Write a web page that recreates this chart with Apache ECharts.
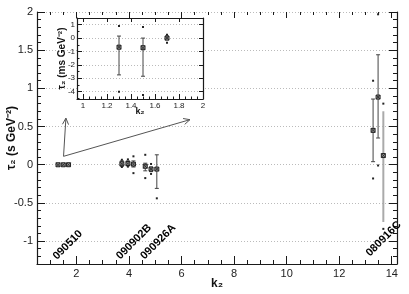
<!DOCTYPE html>
<html><head><meta charset="utf-8">
<script src="https://cdn.jsdelivr.net/npm/echarts@6/dist/echarts.min.js"></script>
<style>html,body{margin:0;padding:0;background:#fff}#c{width:409px;height:294px}</style>
</head><body><div id="c"></div>
<script>
// ---- data ----
const xMajorTicks = [2, 4, 6, 8, 10, 12, 14];
const yMajorTicks = [-1, -0.5, 0, 0.5, 1, 1.5, 2];
const insetXTicks = [1, 1.2, 1.4, 1.6, 1.8, 2];
const insetYTicks = [-4, -3, -2, -1, 0, 1];
const insetYMinor = [-4.5, -3.5, -2.5, -1.5, -0.5, 0.5, 1.5];

const grbNames = ['090510', '090902B', '090926A', '080916C'];
const grbLabelK = [1.67, 4.19, 5.11, 13.69];
const grbLabelTau = [-1.05, -1.01, -1.01, -0.97];

const mainK      = [1.3, 1.5, 1.7, 3.73, 3.96, 4.17, 4.62, 4.84, 5.06, 13.29, 13.48, 13.68];
const mainTau    = [-0.0007, -0.0007, 0.0, 0.013, 0.016, 0.008, -0.02, -0.057, -0.057, 0.45, 0.886, 0.12];
const mainErrLo  = [null, null, null, -0.02, -0.015, -0.03, -0.08, -0.09, -0.31, 0.04, 0.35, -0.75];
const mainErrHi  = [null, null, null, 0.05, 0.05, 0.05, 0.02, -0.03, 0.13, 0.86, 1.44, 0.70];
const mainOutLo  = [null, null, null, -0.03, -0.025, -0.11, -0.175, -0.12, -0.44, -0.18, -0.01, -0.84];
const mainOutHi  = [null, null, null, 0.065, 0.07, 0.11, 0.13, 0.01, null, 1.10, 1.97, 0.80];
const mainStyle  = [0, 0, 0, 0, 0, 0, 0, 0, 0, 0, 0, 1];

const insetK     = [1.3, 1.5, 1.7];
const insetTau   = [-0.68, -0.72, 0.0];
const insetErrLo = [-2.75, -2.85, -0.12];
const insetErrHi = [0.15, 0.0, 0.15];
const insetOutLo = [-4.0, -4.25, -0.35];
const insetOutHi = [0.9, 0.83, 0.25];

const arrowFrom = [1.51, 0.11];
const arrowTo = [[1.6, 0.61], [6.32, 0.59]];

// ---- helpers ----
const AX = '#1a1a1a';
const FONT = 'Liberation Sans, Arial, sans-serif';
const nz = v => (v == null ? NaN : v);
function rows(K, T, L, H, OL, OH, S) {
  return K.map((k, i) => [k, T[i], nz(L[i]), nz(H[i]), nz(OL[i]), nz(OH[i]), S ? S[i] : 0]);
}
function ax(gridIndex, min, max, position, o) {
  return Object.assign({
    type: 'value', gridIndex, min, max, position, nameMoveOverlap: false,
    axisLine: { show: false, onZero: false }, axisTick: { show: false },
    axisLabel: { show: false }, splitLine: { show: false }
  }, o || {});
}
const lineOn = { show: true, onZero: false, lineStyle: { color: AX, width: 1.2 } };
const tick = (len, vals, extra) => Object.assign({ show: true, inside: true, length: len, lineStyle: { color: AX, width: 1 } }, vals ? { customValues: vals } : {}, extra || {});

function renderErr(params, api) {
  const k = api.value(0), t = api.value(1);
  const lo = api.value(2), hi = api.value(3), olo = api.value(4), ohi = api.value(5), st = api.value(6);
  const p = api.coord([k, t]);
  const ch = [];
  if (!isNaN(lo) && !isNaN(hi)) {
    const a = api.coord([k, lo]), b = api.coord([k, hi]);
    if (st === 1) {
      ch.push({ type: 'line', shape: { x1: a[0], y1: a[1], x2: b[0], y2: b[1] }, style: { stroke: '#aaaaaa', lineWidth: 2 } });
    } else {
      ch.push({ type: 'line', shape: { x1: a[0], y1: a[1], x2: b[0], y2: b[1] }, style: { stroke: '#444', lineWidth: 1 } });
      ch.push({ type: 'line', shape: { x1: a[0] - 2, y1: a[1], x2: a[0] + 2, y2: a[1] }, style: { stroke: '#444', lineWidth: 1 } });
      ch.push({ type: 'line', shape: { x1: b[0] - 2, y1: b[1], x2: b[0] + 2, y2: b[1] }, style: { stroke: '#444', lineWidth: 1 } });
    }
  }
  [olo, ohi].forEach(v => {
    if (!isNaN(v)) {
      const q = api.coord([k, v]);
      ch.push({ type: 'rect', shape: { x: q[0] - 1, y: q[1] - 1, width: 2, height: 2 }, style: { fill: '#222' } });
    }
  });
  ch.push({ type: 'rect', shape: { x: p[0] - 2, y: p[1] - 2, width: 4, height: 4 }, style: { fill: '#999', stroke: '#222', lineWidth: 1 } });
  ch.push({ type: 'line', shape: { x1: p[0] - 2, y1: p[1] - 2, x2: p[0] + 2, y2: p[1] + 2 }, style: { stroke: '#222', lineWidth: 0.8 } });
  ch.push({ type: 'line', shape: { x1: p[0] - 2, y1: p[1] + 2, x2: p[0] + 2, y2: p[1] - 2 }, style: { stroke: '#222', lineWidth: 0.8 } });
  return { type: 'group', children: ch };
}

function renderArrow(params, api) {
  const a = api.coord([api.value(0), api.value(1)]);
  const b = api.coord([api.value(2), api.value(3)]);
  const ang = Math.atan2(b[1] - a[1], b[0] - a[0]);
  const L = 7, w = 0.45;
  const h1 = [b[0] - L * Math.cos(ang - w), b[1] - L * Math.sin(ang - w)];
  const h2 = [b[0] - L * Math.cos(ang + w), b[1] - L * Math.sin(ang + w)];
  const s = { stroke: '#555', lineWidth: 1, fill: null };
  return { type: 'group', children: [
    { type: 'line', shape: { x1: a[0], y1: a[1], x2: b[0], y2: b[1] }, style: s },
    { type: 'polyline', shape: { points: [h1, b, h2] }, style: s }
  ] };
}

function renderLabel(params, api) {
  const p = api.coord([api.value(0), api.value(1)]);
  return { type: 'text', x: p[0], y: p[1], rotation: Math.PI / 4,
    style: { text: grbNames[params.dataIndex], align: 'center', verticalAlign: 'middle',
      font: 'bold 11px ' + FONT, fill: '#000' } };
}

const chart = echarts.init(document.getElementById('c'), null, { renderer: 'canvas' });
chart.setOption({
  animation: false,
  backgroundColor: '#fff',
  grid: [
    { left: 37, top: 12, width: 360, height: 252, containLabel: false, outerBoundsMode: 'none' },
    { left: 77, top: 18, width: 126, height: 81, show: true, backgroundColor: '#fff', borderWidth: 0, z: 3, containLabel: false, outerBoundsMode: 'none' }
  ],
  xAxis: [
    ax(0, 0.5, 14.2, 'bottom', {
      axisLine: lineOn, axisTick: tick(8, xMajorTicks),
      axisLabel: { show: true, customValues: xMajorTicks, margin: 4, fontSize: 11, color: '#222', fontFamily: FONT },
      name: 'k₂', nameLocation: 'middle', nameGap: 14,
      nameTextStyle: { fontWeight: 'bold', fontSize: 12, color: '#111', fontFamily: FONT, verticalAlign: 'top' }
    }),
    ax(0, 0.5, 14.2, 'bottom', { interval: 0.5, axisTick: tick(4) }),
    ax(0, 0.5, 14.2, 'top', { axisTick: tick(6, xMajorTicks) }),
    ax(0, 0.5, 14.2, 'top', { interval: 0.5, axisTick: tick(3) }),
    ax(1, 0.95, 2.0, 'bottom', {
      z: 4, axisLine: lineOn, axisTick: tick(5, insetXTicks),
      axisLabel: { show: true, customValues: insetXTicks, margin: 3, fontSize: 8, color: '#222', fontFamily: FONT },
      name: 'k₂', nameLocation: 'middle', nameGap: 8,
      nameTextStyle: { fontWeight: 'bold', fontSize: 9, color: '#111', fontFamily: FONT, verticalAlign: 'top' }
    }),
    ax(1, 0.95, 2.0, 'bottom', { z: 4, interval: 0.05, axisTick: tick(2.5) }),
    ax(1, 0.95, 2.0, 'top', { z: 4, axisLine: lineOn, axisTick: tick(4, insetXTicks) })
  ],
  yAxis: [
    ax(0, -1.3, 2.0, 'left', {
      axisLine: lineOn, axisTick: tick(8, yMajorTicks),
      axisLabel: { show: true, customValues: yMajorTicks, margin: 4, fontSize: 11, color: '#222', fontFamily: FONT },
      splitLine: { show: true, lineStyle: { color: '#bbb', type: [1, 2], width: 1 } },
      name: 'τ₂ (s GeV⁻²)', nameLocation: 'middle', nameGap: 19, nameRotate: 90,
      nameTextStyle: { fontWeight: 'bold', fontSize: 12, color: '#111', fontFamily: FONT }
    }),
    ax(0, -1.3, 2.0, 'left', { interval: 0.1, axisTick: tick(4) }),
    ax(0, -1.3, 2.0, 'right', { axisLine: lineOn, axisTick: tick(8, yMajorTicks) }),
    ax(0, -1.3, 2.0, 'right', { interval: 0.1, axisTick: tick(4) }),
    ax(1, -4.55, 1.5, 'left', {
      z: 4, axisLine: lineOn, axisTick: tick(5, insetYTicks),
      axisLabel: { show: true, customValues: insetYTicks, margin: 2, fontSize: 8, color: '#222', fontFamily: FONT },
      splitLine: { show: true, lineStyle: { color: '#bbb', type: [1, 2], width: 1 } },
      name: 'τ₂ (ms GeV⁻²)', nameLocation: 'middle', nameGap: 10, nameRotate: 90,
      nameTextStyle: { fontWeight: 'bold', fontSize: 10, color: '#111', fontFamily: FONT }
    }),
    ax(1, -4.55, 1.5, 'left', { z: 4, axisTick: tick(2.5, insetYMinor) }),
    ax(1, -4.55, 1.5, 'right', { z: 4, axisLine: lineOn, axisTick: tick(4, insetYTicks) })
  ],
  series: [
    { type: 'custom', xAxisIndex: 0, yAxisIndex: 0, z: 2, renderItem: renderArrow,
      data: arrowTo.map(t => [arrowFrom[0], arrowFrom[1], t[0], t[1]]) },
    { type: 'custom', xAxisIndex: 0, yAxisIndex: 0, z: 2, renderItem: renderErr,
      data: rows(mainK, mainTau, mainErrLo, mainErrHi, mainOutLo, mainOutHi, mainStyle) },
    { type: 'custom', xAxisIndex: 0, yAxisIndex: 0, z: 2, renderItem: renderLabel,
      data: grbLabelK.map((k, i) => [k, grbLabelTau[i]]) },
    { type: 'custom', xAxisIndex: 4, yAxisIndex: 4, z: 6, renderItem: renderErr,
      data: rows(insetK, insetTau, insetErrLo, insetErrHi, insetOutLo, insetOutHi, null) }
  ]
});
</script>
</body></html>
